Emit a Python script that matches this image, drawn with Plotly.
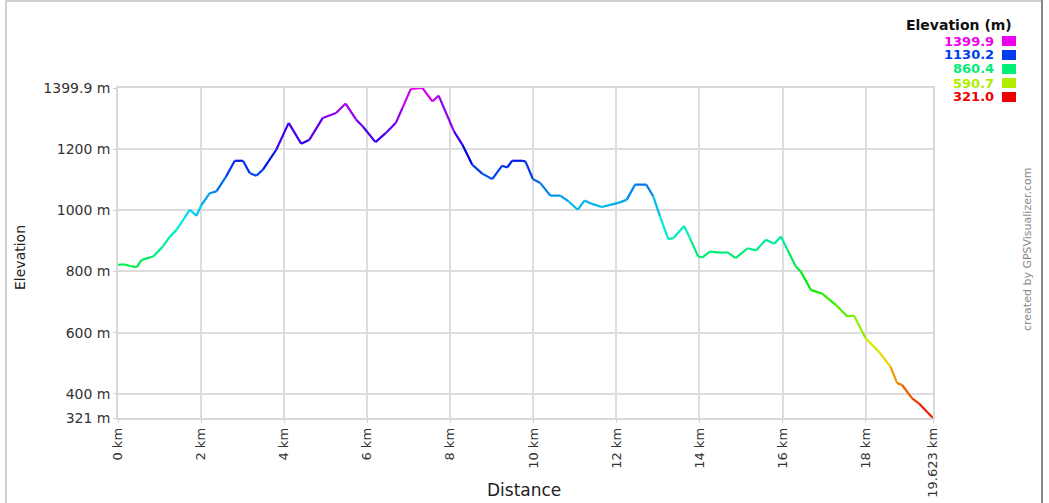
import colorsys
import plotly.graph_objects as go

# ---- data ----
dist_km = [0, 0.15, 0.3, 0.45, 0.57, 0.85, 1.08, 1.25, 1.41, 1.6,
           1.73, 1.89, 2.01, 2.21, 2.37, 2.6, 2.81, 3.01, 3.17, 3.33,
           3.49, 3.81, 4.11, 4.41, 4.61, 4.93, 5.25, 5.48, 5.73, 5.89,
           6.20, 6.45, 6.69, 6.85, 7.05, 7.33, 7.57, 7.72, 8.09, 8.29,
           8.53, 8.77, 9.01, 9.25, 9.37, 9.49, 9.73, 9.81, 9.99, 10.17,
           10.41, 10.65, 10.85, 11.07, 11.23, 11.41, 11.65, 11.85, 12.09, 12.25,
           12.45, 12.72, 12.89, 13.05, 13.25, 13.37, 13.63, 13.77, 13.97, 14.07,
           14.25, 14.49, 14.69, 14.87, 15.16, 15.36, 15.60, 15.80, 15.96, 16.12,
           16.32, 16.44, 16.68, 16.96, 17.28, 17.56, 17.72, 18.00, 18.32, 18.60,
           18.76, 18.88, 19.12, 19.28, 19.623]
elev_m = [822, 823, 818, 814, 838, 849, 882, 914, 936, 975,
          1002, 982, 1018, 1056, 1062, 1110, 1162, 1162, 1122, 1113,
          1133, 1198, 1286, 1218, 1231, 1302, 1318, 1349, 1297, 1275,
          1223, 1253, 1286, 1335, 1397, 1399.9, 1356, 1375, 1258, 1215,
          1149, 1120, 1102, 1146, 1140, 1162, 1162, 1160, 1102, 1089,
          1048, 1048, 1029, 1002, 1032, 1021, 1011, 1018, 1026, 1035,
          1084, 1084, 1045, 980, 906, 909, 949, 909, 849, 846,
          865, 862, 862, 844, 876, 869, 904, 891, 914, 871,
          816, 800, 740, 727, 691, 653, 656, 582, 538, 489,
          435, 429, 385, 369, 321]

x_tickvals = [0, 2, 4, 6, 8, 10, 12, 14, 16, 18, 19.623]
x_ticktext = ["0 km", "2 km", "4 km", "6 km", "8 km", "10 km", "12 km",
              "14 km", "16 km", "18 km", "19.623 km"]
y_tickvals = [321, 400, 600, 800, 1000, 1200, 1399.9]
y_ticktext = ["321 m", "400 m", "600 m", "800 m", "1000 m", "1200 m", "1399.9 m"]
legend_vals = [1399.9, 1130.2, 860.4, 590.7, 321.0]

E_MIN, E_MAX = 321.0, 1399.9


def elev_color(e):
    f = max(0.0, min(1.0, (e - E_MIN) / (E_MAX - E_MIN)))
    r, g, b = colorsys.hsv_to_rgb(f * 300.0 / 360.0, 1.0, 0.93)
    return f"rgb({int(r*255)},{int(g*255)},{int(b*255)})"


fig = go.Figure()
for i in range(len(dist_km) - 1):
    fig.add_trace(go.Scatter(
        x=[dist_km[i], dist_km[i + 1]], y=[elev_m[i], elev_m[i + 1]],
        mode="lines", line=dict(color=elev_color((elev_m[i] + elev_m[i + 1]) / 2), width=2.2),
        hoverinfo="skip", showlegend=False))

# geometry helpers (pixel -> paper)
L, R, T, B = 118, 933, 88, 418
W, H = 1049, 503


def px(xp):
    return (xp - L) / (R - L)


def py(yp):
    return (B - yp) / (B - T)


FONT = "DejaVu Sans, Liberation Sans, Arial, sans-serif"
ann = []
shapes = []

ann.append(dict(text="Elevation", x=px(20), y=py(258), xref="paper", yref="paper",
                textangle=-90, showarrow=False, font=dict(family=FONT, size=14, color="#222"),
                xanchor="center", yanchor="middle"))
ann.append(dict(text="Distance", x=px(524), y=py(502), xref="paper", yref="paper",
                showarrow=False, font=dict(family=FONT, size=17, color="#222"),
                xanchor="center", yanchor="bottom"))
ann.append(dict(text="created by GPSVisualizer.com", x=px(1027), y=py(250), xref="paper", yref="paper",
                textangle=-90, showarrow=False, font=dict(family=FONT, size=11, color="#888"),
                xanchor="center", yanchor="middle"))
ann.append(dict(text="<b>Elevation (m)</b>", x=px(1014), y=py(25), xref="paper", yref="paper",
                showarrow=False, font=dict(family=FONT, size=14, color="#111"),
                xanchor="right", yanchor="middle"))
row_y = [41, 55, 69, 83, 97]
for v, yy in zip(legend_vals, row_y):
    c = elev_color(v)
    ann.append(dict(text=f"<b>{v:.1f}</b>", x=px(996), y=py(yy), xref="paper", yref="paper",
                    showarrow=False, font=dict(family=FONT, size=13, color=c),
                    xanchor="right", yanchor="middle"))
    shapes.append(dict(type="rect", xref="paper", yref="paper",
                       x0=px(1002), x1=px(1016), y0=py(yy + 5), y1=py(yy - 5),
                       fillcolor=c, line=dict(width=0)))

# outer frame
shapes.append(dict(type="line", xref="paper", yref="paper", x0=px(6), x1=px(6), y0=py(0), y1=py(503),
                   line=dict(color="#d0d0d0", width=2)))
shapes.append(dict(type="line", xref="paper", yref="paper", x0=px(6), x1=px(1042), y0=py(1), y1=py(1),
                   line=dict(color="#d0d0d0", width=2)))
shapes.append(dict(type="line", xref="paper", yref="paper", x0=px(1042), x1=px(1042), y0=py(0), y1=py(503),
                   line=dict(color="#888888", width=2)))

fig.update_layout(
    width=W, height=H,
    margin=dict(l=L, r=W - R, t=T, b=H - B, autoexpand=False),
    paper_bgcolor="white", plot_bgcolor="white",
    annotations=ann, shapes=shapes,
    xaxis=dict(range=[0, 19.623], tickvals=x_tickvals, ticktext=x_ticktext, tickangle=-90,
               automargin=False,
               showgrid=True, gridcolor="#dcdcdc", gridwidth=1.5, zeroline=False,
               showline=True, mirror=True, linecolor="#d8d8d8", linewidth=1.5,
               ticks="outside", ticklen=3, tickcolor="#d0d0d0",
               tickfont=dict(family=FONT, size=13, color="#333")),
    yaxis=dict(range=[321, 1399.9], tickvals=y_tickvals, ticktext=y_ticktext,
               automargin=False,
               showgrid=True, gridcolor="#dcdcdc", gridwidth=1.5, zeroline=False,
               showline=True, mirror=True, linecolor="#d8d8d8", linewidth=1.5,
               ticks="outside", ticklen=3, tickcolor="#d0d0d0",
               tickfont=dict(family=FONT, size=14, color="#333")),
)

fig.write_html("out.html", config={"displayModeBar": False},
               post_script="document.body.style.margin='0px';document.body.style.overflow='hidden';")
